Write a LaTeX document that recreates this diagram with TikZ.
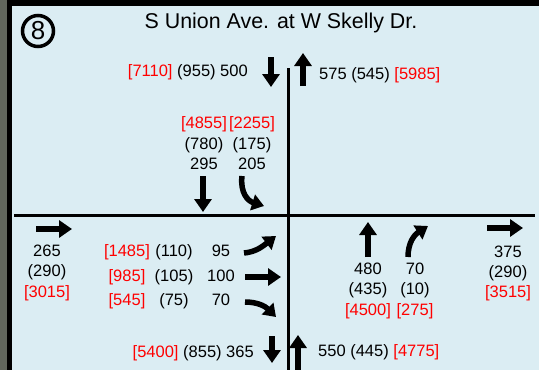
\documentclass[tikz,border=0pt]{standalone}
\usepackage{fontspec}
\setmainfont{Liberation Sans}
\usetikzlibrary{arrows.meta}
\definecolor{panel}{RGB}{219,237,243}
\definecolor{photo}{RGB}{98,103,93}
\newcommand{\yrvol}[1]{\textcolor{red}{[#1]}}

\begin{document}
\begin{tikzpicture}[x=1pt,y=-1pt,
    lbl/.style={font=\fontsize{16.5}{18}\selectfont,inner sep=0pt,text height=12pt,text depth=3.5pt},
    blk/.style={line width=6pt,-{Triangle[width=17pt,length=13pt]}},
    turn/.style={line width=5.5pt,-{Triangle[width=16pt,length=12pt]}}]
        \useasboundingbox (0,0) rectangle (539,370);
        \fill[black] (0,0) rectangle (539,370);
        \fill[photo] (0,0) rectangle (7,370);
        \fill[panel] (12,6) rectangle (539,370);
        \node[circle,draw,line width=3.5pt,minimum size=31pt,inner sep=0pt,font=\fontsize{26}{26}\selectfont] (num) at (38,31) {8};
        \node[font=\fontsize{21.4}{24}\selectfont] (title) at (281,23) {S Union Ave. at W Skelly Dr.};
        \draw[line width=3pt] (288,68) -- (288,370);
        \draw[line width=2.5pt] (14,215.5) -- (535,215.5);
        \draw[blk] (271,57) -- (271,87);
        \draw[blk] (303,86) -- (303,53);
        \draw[blk] (203,176) -- (203,212);
        \draw[turn] (242,176) .. controls (240,193) and (248,201) .. (264,206);
        \draw[blk] (36,229) -- (72,229);
        \draw[turn] (244,253) .. controls (256,252) and (263,246) .. (276,236);
        \draw[blk] (245,277) -- (281,277);
        \draw[turn] (245,302) .. controls (257,302) and (265,306) .. (276,317);
        \draw[blk] (368,257) -- (368,222);
        \draw[turn] (408,257) .. controls (408,243) and (414,235) .. (428,226);
        \draw[blk] (487,228) -- (523,228);
        \draw[blk] (272,336) -- (272,363);
        \draw[blk] (298,372) -- (298,335);
        \node[lbl,anchor=east] (sbtot) at (248,72) {\yrvol{7110} (955) 500};
        \node[lbl,anchor=west] (nbtot) at (319,75) {575 (545) \yrvol{5985}};
        \node[lbl] (sbthA) at (204,124) {\yrvol{4855}};
        \node[lbl] (sbthP) at (204,145) {(780)};
        \node[lbl] (sbthM) at (204,165) {295};
        \node[lbl] (sbrtA) at (252,124) {\yrvol{2255}};
        \node[lbl] (sbrtP) at (252,145) {(175)};
        \node[lbl] (sbrtM) at (252,165) {205};
        \node[lbl] (wbM) at (47,252) {265};
        \node[lbl] (wbP) at (47,272) {(290)};
        \node[lbl] (wbA) at (47,293) {\yrvol{3015}};
        \node[lbl] (ebltA) at (127,252) {\yrvol{1485}};
        \node[lbl] (ebltP) at (174,252) {(110)};
        \node[lbl] (ebltM) at (221,252) {95};
        \node[lbl] (ebthA) at (127,277) {\yrvol{985}};
        \node[lbl] (ebthP) at (174,277) {(105)};
        \node[lbl] (ebthM) at (221,277) {100};
        \node[lbl] (ebrtA) at (127,301) {\yrvol{545}};
        \node[lbl] (ebrtP) at (174,301) {(75)};
        \node[lbl] (ebrtM) at (221,301) {70};
        \node[lbl] (nbthM) at (368,270) {480};
        \node[lbl] (nbthP) at (368,290) {(435)};
        \node[lbl] (nbthA) at (368,311) {\yrvol{4500}};
        \node[lbl] (nbrtM) at (415,270) {70};
        \node[lbl] (nbrtP) at (415,290) {(10)};
        \node[lbl] (nbrtA) at (415,311) {\yrvol{275}};
        \node[lbl] (ebM) at (508,253) {375};
        \node[lbl] (ebP) at (508,273) {(290)};
        \node[lbl] (ebA) at (508,293) {\yrvol{3515}};
        \node[lbl,anchor=east] (sbbot) at (254,353) {\yrvol{5400} (855) 365};
        \node[lbl,anchor=west] (nbbot) at (318,352) {550 (445) \yrvol{4775}};
      \end{tikzpicture}
\end{document}
